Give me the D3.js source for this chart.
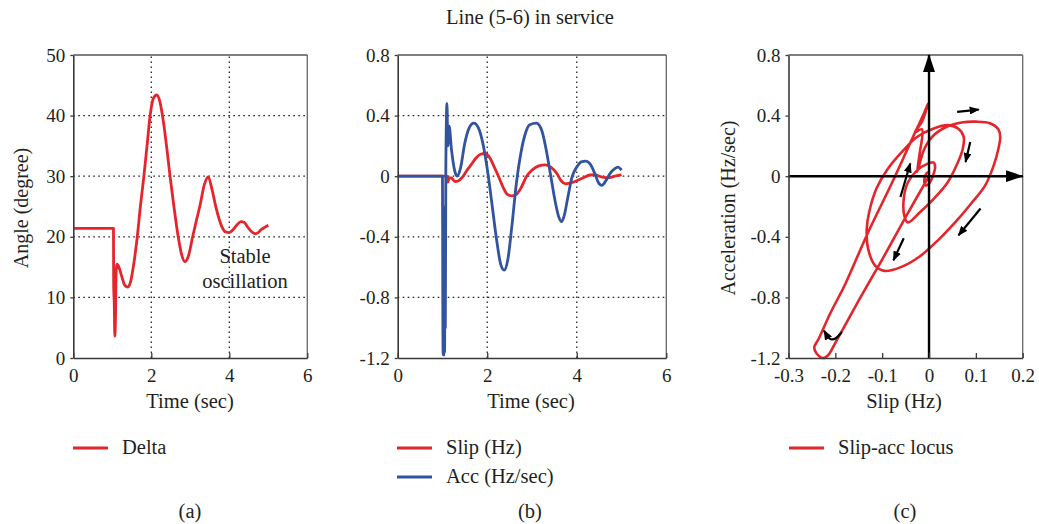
<!DOCTYPE html>
<html>
<head>
<meta charset="utf-8">
<script src="https://cdn.jsdelivr.net/npm/d3@7"></script>
<style>
  body { margin: 0; background: #fff; }
  text { font-family: "Liberation Serif", "Times New Roman", serif; fill: #231f20; }
</style>
</head>
<body>
<svg id="chart" width="1039" height="524"></svg>
<script>
// ---- data ----
// (a) rotor angle, [time s, degree]
const deltaSeries = [
  [0,21.4],[1.03,21.4],[1.035,12],[1.05,9],[1.065,3.6],[1.08,6],[1.1,14.5],[1.12,15.5],
  [1.17,15],[1.24,13.5],[1.32,12],[1.4,11.7],[1.47,12.6],[1.55,15.5],[1.64,20],[1.72,25],
  [1.81,30],[1.89,35],[1.97,40],[2.05,42.8],[2.14,43.4],[2.22,42.3],[2.31,39],[2.4,34.5],
  [2.48,30],[2.58,25],[2.69,20],[2.78,17],[2.86,15.9],[2.95,16.8],[3.06,20],[3.15,22.5],
  [3.25,25.2],[3.36,28.6],[3.46,29.9],[3.55,28],[3.66,24.8],[3.8,21.8],[3.9,20.8],[4.0,20.7],
  [4.1,21.2],[4.2,22],[4.3,22.5],[4.38,22.4],[4.46,21.7],[4.56,20.9],[4.66,20.5],[4.74,20.7],
  [4.82,21.2],[4.92,21.6],[5.0,21.9]
];
// (b) slip [time s, Hz]
const slipSeries = [
  [0,0],[1.0,0],[1.1,0],[1.12,-0.04],[1.15,-0.012],[1.2,-0.012],[1.28,-0.035],[1.36,-0.03],
  [1.45,-0.005],[1.55,0.04],[1.65,0.08],[1.75,0.12],[1.85,0.145],[1.95,0.15],[2.05,0.125],
  [2.15,0.065],[2.25,0.0],[2.35,-0.07],[2.45,-0.12],[2.55,-0.13],[2.65,-0.12],[2.75,-0.08],
  [2.88,0.0],[3.0,0.04],[3.15,0.068],[3.3,0.075],[3.42,0.06],[3.55,0.02],[3.65,-0.03],
  [3.75,-0.05],[3.85,-0.045],[4.0,-0.03],[4.15,-0.01],[4.3,0.008],[4.4,0.01],[4.5,0.0],
  [4.6,-0.008],[4.7,-0.01],[4.85,0.0],[5.0,0.01]
];
// (b) acceleration [time s, Hz/sec]
const accSeries = [
  [0,0],[1.0,0],[1.008,-0.9],[1.016,-1.18],[1.024,-0.5],[1.032,-1.18],[1.04,-0.3],[1.048,-1.16],
  [1.056,-0.2],[1.064,-1.0],[1.075,0.05],[1.1,0.48],[1.12,0.2],[1.15,0.33],[1.2,0.18],
  [1.27,0.04],[1.33,0.0],[1.4,0.05],[1.5,0.22],[1.6,0.32],[1.7,0.35],[1.8,0.32],[1.9,0.22],
  [2.0,0.05],[2.1,-0.17],[2.2,-0.4],[2.3,-0.58],[2.38,-0.62],[2.46,-0.55],[2.55,-0.33],
  [2.65,-0.05],[2.75,0.15],[2.85,0.28],[2.95,0.34],[3.1,0.35],[3.22,0.3],[3.32,0.17],[3.42,0.0],
  [3.52,-0.17],[3.6,-0.27],[3.66,-0.3],[3.72,-0.26],[3.8,-0.14],[3.9,0.0],[4.0,0.06],[4.1,0.095],
  [4.2,0.1],[4.3,0.08],[4.4,0.02],[4.48,-0.04],[4.56,-0.06],[4.65,-0.03],[4.75,0.02],[4.85,0.05],
  [4.92,0.06],[5.0,0.04]
];
// (c) slip-acceleration locus [slip Hz, acc Hz/sec]
const locusSeries = [
  [0,0],[-0.05,-0.27],[-0.1,-0.55],[-0.15,-0.82],[-0.2,-1.1],[-0.215,-1.18],[-0.226,-1.2],
  [-0.24,-1.17],[-0.245,-1.13],[-0.235,-1.07],[-0.21,-0.9],[-0.18,-0.72],[-0.13,-0.37],
  [-0.08,-0.05],[-0.04,0.22],[-0.01,0.42],[-0.002,0.48],[-0.015,0.36],[-0.03,0.29],
  [-0.015,0.31],[-0.02,0.15],[-0.025,0.03],[-0.01,0.18],[0.01,0.27],[0.04,0.33],[0.07,0.355],
  [0.1,0.36],[0.13,0.35],[0.148,0.31],[0.152,0.26],[0.148,0.18],[0.138,0.07],[0.12,-0.06],
  [0.09,-0.18],[0.06,-0.29],[0.02,-0.42],[-0.02,-0.53],[-0.06,-0.6],[-0.095,-0.625],
  [-0.115,-0.59],[-0.13,-0.48],[-0.133,-0.35],[-0.128,-0.24],[-0.112,-0.08],[-0.09,0.04],
  [-0.055,0.17],[-0.025,0.26],[0.01,0.315],[0.04,0.337],[0.062,0.315],[0.074,0.26],
  [0.072,0.18],[0.06,0.08],[0.04,-0.04],[0.01,-0.15],[-0.02,-0.24],[-0.045,-0.305],
  [-0.052,-0.27],[-0.054,-0.15],[-0.045,-0.04],[-0.025,0.04],[-0.005,0.08],[0.01,0.09],
  [0.013,0.06],[0.008,0.0],[0.0,-0.05],[-0.007,-0.06],[-0.01,-0.02],[-0.005,0.02],[0.002,0.03]
];
// direction arrows on the locus, [from, to] in data units
const locusArrows = [
  [[0.06,0.425],[0.106,0.44]],
  [[0.088,0.226],[0.078,0.094]],
  [[0.11,-0.213],[0.063,-0.39]],
  [[-0.054,-0.41],[-0.076,-0.555]],
  [[-0.061,-0.137],[-0.04,0.084]]
];
const hookArrow = [[-0.186,-1.028],[-0.2,-1.08],[-0.213,-1.08],[-0.224,-1.02]];

// ticks
const timeTicks = [0, 2, 4, 6];
const angleTicks = [0, 10, 20, 30, 40, 50];
const bTicks = [0.8, 0.4, 0, -0.4, -0.8, -1.2];
const bTickLabels = ["0.8", "0.4", "0", "-0.4", "-0.8", "-1.2"];
const slipTicks = [-0.3, -0.2, -0.1, 0, 0.1, 0.2];
const slipTickLabels = ["-0.3", "-0.2", "-0.1", "0", "0.1", "0.2"];

const RED = "#e4252b", BLUE = "#3153a0", AXIS = "#3a3a3a";
const FS_TICK = 19, FS = 20.5, FS_AXIS = 20;

const svg = d3.select("#chart");

// arrowheads
const defs = svg.append("defs");
defs.append("marker").attr("id", "bigHead").attr("markerUnits", "userSpaceOnUse")
  .attr("viewBox", "0 0 18 12").attr("refX", 17).attr("refY", 6)
  .attr("markerWidth", 18).attr("markerHeight", 12).attr("orient", "auto")
  .append("path").attr("d", "M0,0 L18,6 L0,12 Z").attr("fill", "#000");
defs.append("marker").attr("id", "smallHead").attr("markerUnits", "userSpaceOnUse")
  .attr("viewBox", "0 0 10 8").attr("refX", 9).attr("refY", 4)
  .attr("markerWidth", 10).attr("markerHeight", 8).attr("orient", "auto")
  .append("path").attr("d", "M0,0 L10,4 L0,8 Z").attr("fill", "#000");

svg.append("text").attr("x", 530).attr("y", 24).attr("text-anchor", "middle")
  .attr("font-size", FS).text("Line (5-6) in service");

function frame(g, x, y) {
  const [x0, x1] = x.range(), [y0, y1] = y.range();
  g.append("line").attr("x1", x0).attr("x2", x1).attr("y1", y1).attr("y2", y1)
    .attr("stroke", "#555").attr("stroke-width", 1.3);
  g.append("line").attr("x1", x1).attr("x2", x1).attr("y1", y0).attr("y2", y1)
    .attr("stroke", "#666").attr("stroke-width", 1.3);
}

function grid(g, x, y, xs, ys) {
  const [x0, x1] = x.range(), [y0, y1] = y.range();
  g.selectAll(".gx").data(xs).join("line")
    .attr("x1", d => x(d)).attr("x2", d => x(d)).attr("y1", y0).attr("y2", y1)
    .attr("stroke", "#222").attr("stroke-width", 1.3).attr("stroke-dasharray", "1.6,3.4");
  g.selectAll(".gy").data(ys).join("line")
    .attr("x1", x0).attr("x2", x1).attr("y1", d => y(d)).attr("y2", d => y(d))
    .attr("stroke", "#222").attr("stroke-width", 1.3).attr("stroke-dasharray", "1.6,3.4");
}

function axes(g, x, y, xt, xl, yt, yl) {
  const ax = g.append("g").attr("transform", `translate(0,${y.range()[0]})`)
    .call(d3.axisBottom(x).tickValues(xt).tickFormat((d, i) => xl[i])
      .tickSizeInner(-5).tickSizeOuter(0).tickPadding(11));
  const ay = g.append("g").attr("transform", `translate(${x.range()[0]},0)`)
    .call(d3.axisLeft(y).tickValues(yt).tickFormat((d, i) => yl[i])
      .tickSizeInner(3).tickSizeOuter(0).tickPadding(5));
  [ax, ay].forEach(a => {
    a.select(".domain").attr("stroke", AXIS).attr("stroke-width", 1.6);
    a.selectAll(".tick line").attr("stroke", AXIS).attr("stroke-width", 1.3);
    a.selectAll("text").attr("font-size", FS_TICK).attr("font-family", null).attr("fill", "#231f20");
  });
}

function legend(g, x0, y0, items) {
  items.forEach((it, i) => {
    g.append("line").attr("x1", x0).attr("x2", x0 + 35).attr("y1", y0 + i * 29).attr("y2", y0 + i * 29)
      .attr("stroke", it.color).attr("stroke-width", 3);
    g.append("text").attr("x", x0 + 49).attr("y", y0 + i * 29 + 6).attr("font-size", FS).text(it.label);
  });
}

const timeCurve = d3.curveMonotoneX;
const locusCurve = d3.curveCatmullRom.alpha(0.5);

// ---- (a) ----
{
  const g = svg.append("g");
  const x = d3.scaleLinear().domain([0, 6]).range([73.3, 307.3]);
  const y = d3.scaleLinear().domain([0, 50]).range([358, 55]);
  grid(g, x, y, [2, 4], [10, 20, 30, 40]);
  frame(g, x, y);
  g.append("path").datum(deltaSeries)
    .attr("d", d3.line().x(d => x(d[0])).y(d => y(d[1])).curve(timeCurve))
    .attr("fill", "none").attr("stroke", RED).attr("stroke-width", 2.8).attr("stroke-linejoin", "round");
  axes(g, x, y, timeTicks, timeTicks.map(String), angleTicks, angleTicks.map(String));
  g.append("text").attr("x", 245).attr("y", 263).attr("text-anchor", "middle").attr("font-size", FS).text("Stable");
  g.append("text").attr("x", 245).attr("y", 288).attr("text-anchor", "middle").attr("font-size", FS).text("oscillation");
  g.append("text").attr("x", 190).attr("y", 408).attr("text-anchor", "middle").attr("font-size", FS).text("Time (sec)");
  g.append("text").attr("transform", "translate(28,208) rotate(-90)").attr("text-anchor", "middle")
    .attr("font-size", FS_AXIS).text("Angle (degree)");
  legend(g, 73, 448, [{ color: RED, label: "Delta" }]);
  g.append("text").attr("x", 190).attr("y", 518).attr("text-anchor", "middle").attr("font-size", FS).text("(a)");
}

// ---- (b) ----
{
  const g = svg.append("g");
  const x = d3.scaleLinear().domain([0, 6]).range([397.7, 666.3]);
  const y = d3.scaleLinear().domain([-1.2, 0.8]).range([358, 55]);
  grid(g, x, y, [2, 4], [0.4, 0, -0.4, -0.8]);
  frame(g, x, y);
  const line = d3.line().x(d => x(d[0])).y(d => y(d[1])).curve(timeCurve);
  g.append("path").datum(slipSeries).attr("d", line)
    .attr("fill", "none").attr("stroke", RED).attr("stroke-width", 2.8).attr("stroke-linejoin", "round");
  g.append("path").datum(accSeries).attr("d", line)
    .attr("fill", "none").attr("stroke", BLUE).attr("stroke-width", 2.8).attr("stroke-linejoin", "round");
  axes(g, x, y, timeTicks, timeTicks.map(String), bTicks, bTickLabels);
  g.append("text").attr("x", 531).attr("y", 408).attr("text-anchor", "middle").attr("font-size", FS).text("Time (sec)");
  legend(g, 397, 448, [{ color: RED, label: "Slip (Hz)" }, { color: BLUE, label: "Acc (Hz/sec)" }]);
  g.append("text").attr("x", 530).attr("y", 518).attr("text-anchor", "middle").attr("font-size", FS).text("(b)");
}

// ---- (c) ----
{
  const g = svg.append("g");
  const x = d3.scaleLinear().domain([-0.3, 0.2]).range([788.5, 1022.7]);
  const y = d3.scaleLinear().domain([-1.2, 0.8]).range([358, 55]);
  frame(g, x, y);
  g.append("path").datum(locusSeries)
    .attr("d", d3.line().x(d => x(d[0])).y(d => y(d[1])).curve(locusCurve))
    .attr("fill", "none").attr("stroke", RED).attr("stroke-width", 2.6).attr("stroke-linejoin", "round");
  // origin axes with arrowheads
  g.append("line").attr("x1", x(0)).attr("x2", x(0)).attr("y1", y(-1.2)).attr("y2", y(0.8))
    .attr("stroke", "#000").attr("stroke-width", 2.4).attr("marker-end", "url(#bigHead)");
  g.append("line").attr("x1", x(-0.3)).attr("x2", x(0.2)).attr("y1", y(0)).attr("y2", y(0))
    .attr("stroke", "#000").attr("stroke-width", 2.4).attr("marker-end", "url(#bigHead)");
  g.selectAll(".dir").data(locusArrows).join("line")
    .attr("x1", d => x(d[0][0])).attr("y1", d => y(d[0][1]))
    .attr("x2", d => x(d[1][0])).attr("y2", d => y(d[1][1]))
    .attr("stroke", "#000").attr("stroke-width", 2.2).attr("marker-end", "url(#smallHead)");
  g.append("path").datum(hookArrow)
    .attr("d", d3.line().x(d => x(d[0])).y(d => y(d[1])).curve(d3.curveBasis))
    .attr("fill", "none").attr("stroke", "#000").attr("stroke-width", 2.2).attr("marker-end", "url(#smallHead)");
  axes(g, x, y, slipTicks, slipTickLabels, bTicks, bTickLabels);
  g.append("text").attr("x", 904).attr("y", 408).attr("text-anchor", "middle").attr("font-size", FS).text("Slip (Hz)");
  g.append("text").attr("transform", "translate(735,208) rotate(-90)").attr("text-anchor", "middle")
    .attr("font-size", FS_AXIS).text("Acceleration (Hz/sec)");
  legend(g, 789, 448, [{ color: RED, label: "Slip-acc locus" }]);
  g.append("text").attr("x", 905).attr("y", 518).attr("text-anchor", "middle").attr("font-size", FS).text("(c)");
}
</script>
</body>
</html>
